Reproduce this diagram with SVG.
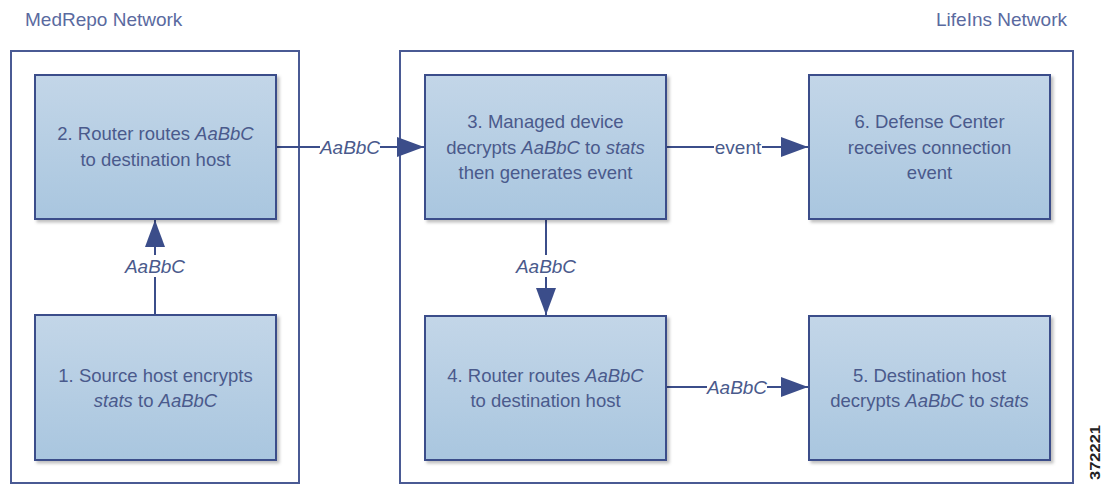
<svg xmlns="http://www.w3.org/2000/svg" width="1106" height="487" viewBox="0 0 1106 487">
  <defs>
    <linearGradient id="nodeFill" x1="0" y1="0" x2="0" y2="1">
      <stop offset="0" stop-color="#c3d6e8"/>
      <stop offset="1" stop-color="#a9c6df"/>
    </linearGradient>
    <filter id="shadow" x="-5%" y="-5%" width="115%" height="115%">
      <feDropShadow dx="2.5" dy="2.5" stdDeviation="1.5" flood-color="#000" flood-opacity="0.25"/>
    </filter>
    <marker id="arrow" markerUnits="userSpaceOnUse" markerWidth="27" markerHeight="20" refX="27" refY="10" orient="auto">
      <path d="M0,0 L27,10 L0,20 Z" fill="#3b4d8a"/>
    </marker>
  </defs>
  <style>
    .container { fill: #ffffff; stroke: #4a5a94; stroke-width: 2; }
    .node rect { fill: url(#nodeFill); stroke: #3b4d8a; stroke-width: 2; filter: url(#shadow); }
    .ntext { font-family: "Liberation Sans", Arial, sans-serif; font-size: 18.5px; fill: #4a5a8c; text-anchor: middle; }
    .title { font-family: "Liberation Sans", Arial, sans-serif; font-size: 19px; fill: #5a6aa0; }
    .edge { fill: none; stroke: #3b4d8a; stroke-width: 2; }
    .elabel { font-family: "Liberation Sans", Arial, sans-serif; font-size: 19px; fill: #4a5a8c; text-anchor: middle; }
    .lbg { fill: #ffffff; }
    i, .it { font-style: italic; }
  </style>

  <rect width="1106" height="487" fill="#ffffff"/>

  <!-- Network containers -->
  <g id="medrepo-network">
    <rect class="container" x="11" y="51" width="288" height="432"/>
    <text class="title" x="25" y="26">MedRepo Network</text>
  </g>
  <g id="lifeins-network">
    <rect class="container" x="400" y="51" width="673" height="432"/>
    <text class="title" x="1067" y="26" text-anchor="end">LifeIns Network</text>
  </g>

  <!-- Connectors -->
  <g id="connectors">
    <!-- 1 -> 2 -->
    <line class="edge" x1="155" y1="315" x2="155" y2="220" marker-end="url(#arrow)"/>
    <rect class="lbg" x="125" y="255" width="60" height="22"/>
    <text class="elabel it" x="155" y="273">AaBbC</text>
    <!-- 2 -> 3 -->
    <line class="edge" x1="276" y1="147" x2="424" y2="147" marker-end="url(#arrow)"/>
    <rect class="lbg" x="320" y="137" width="60" height="21"/>
    <text class="elabel it" x="350" y="154">AaBbC</text>
    <!-- 3 -> 6 -->
    <line class="edge" x1="666" y1="147" x2="808" y2="147" marker-end="url(#arrow)"/>
    <rect class="lbg" x="714" y="137" width="48" height="21"/>
    <text class="elabel" x="738" y="154">event</text>
    <!-- 3 -> 4 -->
    <line class="edge" x1="546" y1="219" x2="546" y2="315" marker-end="url(#arrow)"/>
    <rect class="lbg" x="516" y="255" width="60" height="22"/>
    <text class="elabel it" x="546" y="273">AaBbC</text>
    <!-- 4 -> 5 -->
    <line class="edge" x1="666" y1="387" x2="808" y2="387" marker-end="url(#arrow)"/>
    <rect class="lbg" x="707" y="377" width="60" height="21"/>
    <text class="elabel it" x="737" y="394">AaBbC</text>
  </g>

  <!-- Nodes -->
  <g id="node1" class="node">
    <rect x="35" y="315" width="241" height="145"/>
    <text class="ntext" x="155.5" y="382">1. Source host encrypts</text>
    <text class="ntext" x="155.5" y="407"><tspan class="it">stats</tspan> to <tspan class="it">AaBbC</tspan></text>
  </g>
  <g id="node2" class="node">
    <rect x="35" y="75" width="241" height="144"/>
    <text class="ntext" x="155.5" y="140">2. Router routes <tspan class="it">AaBbC</tspan></text>
    <text class="ntext" x="155.5" y="166">to destination host</text>
  </g>
  <g id="node3" class="node">
    <rect x="425" y="75" width="241" height="144"/>
    <text class="ntext" x="545.5" y="128">3. Managed device</text>
    <text class="ntext" x="545.5" y="154">decrypts <tspan class="it">AaBbC</tspan> to <tspan class="it">stats</tspan></text>
    <text class="ntext" x="545.5" y="179">then generates event</text>
  </g>
  <g id="node4" class="node">
    <rect x="425" y="316" width="241" height="144"/>
    <text class="ntext" x="545.5" y="382">4. Router routes <tspan class="it">AaBbC</tspan></text>
    <text class="ntext" x="545.5" y="407">to destination host</text>
  </g>
  <g id="node5" class="node">
    <rect x="809" y="316" width="241" height="144"/>
    <text class="ntext" x="929.5" y="382">5. Destination host</text>
    <text class="ntext" x="929.5" y="407">decrypts <tspan class="it">AaBbC</tspan> to <tspan class="it">stats</tspan></text>
  </g>
  <g id="node6" class="node">
    <rect x="809" y="75" width="241" height="144"/>
    <text class="ntext" x="929.5" y="128">6. Defense Center</text>
    <text class="ntext" x="929.5" y="154">receives connection</text>
    <text class="ntext" x="929.5" y="179">event</text>
  </g>

  <!-- Figure number -->
  <text x="0" y="0" transform="translate(1100,480) rotate(-90)" font-family="'Liberation Sans', Arial, sans-serif" font-size="15" font-weight="bold" fill="#222222" textLength="55" lengthAdjust="spacingAndGlyphs">372221</text>
</svg>
